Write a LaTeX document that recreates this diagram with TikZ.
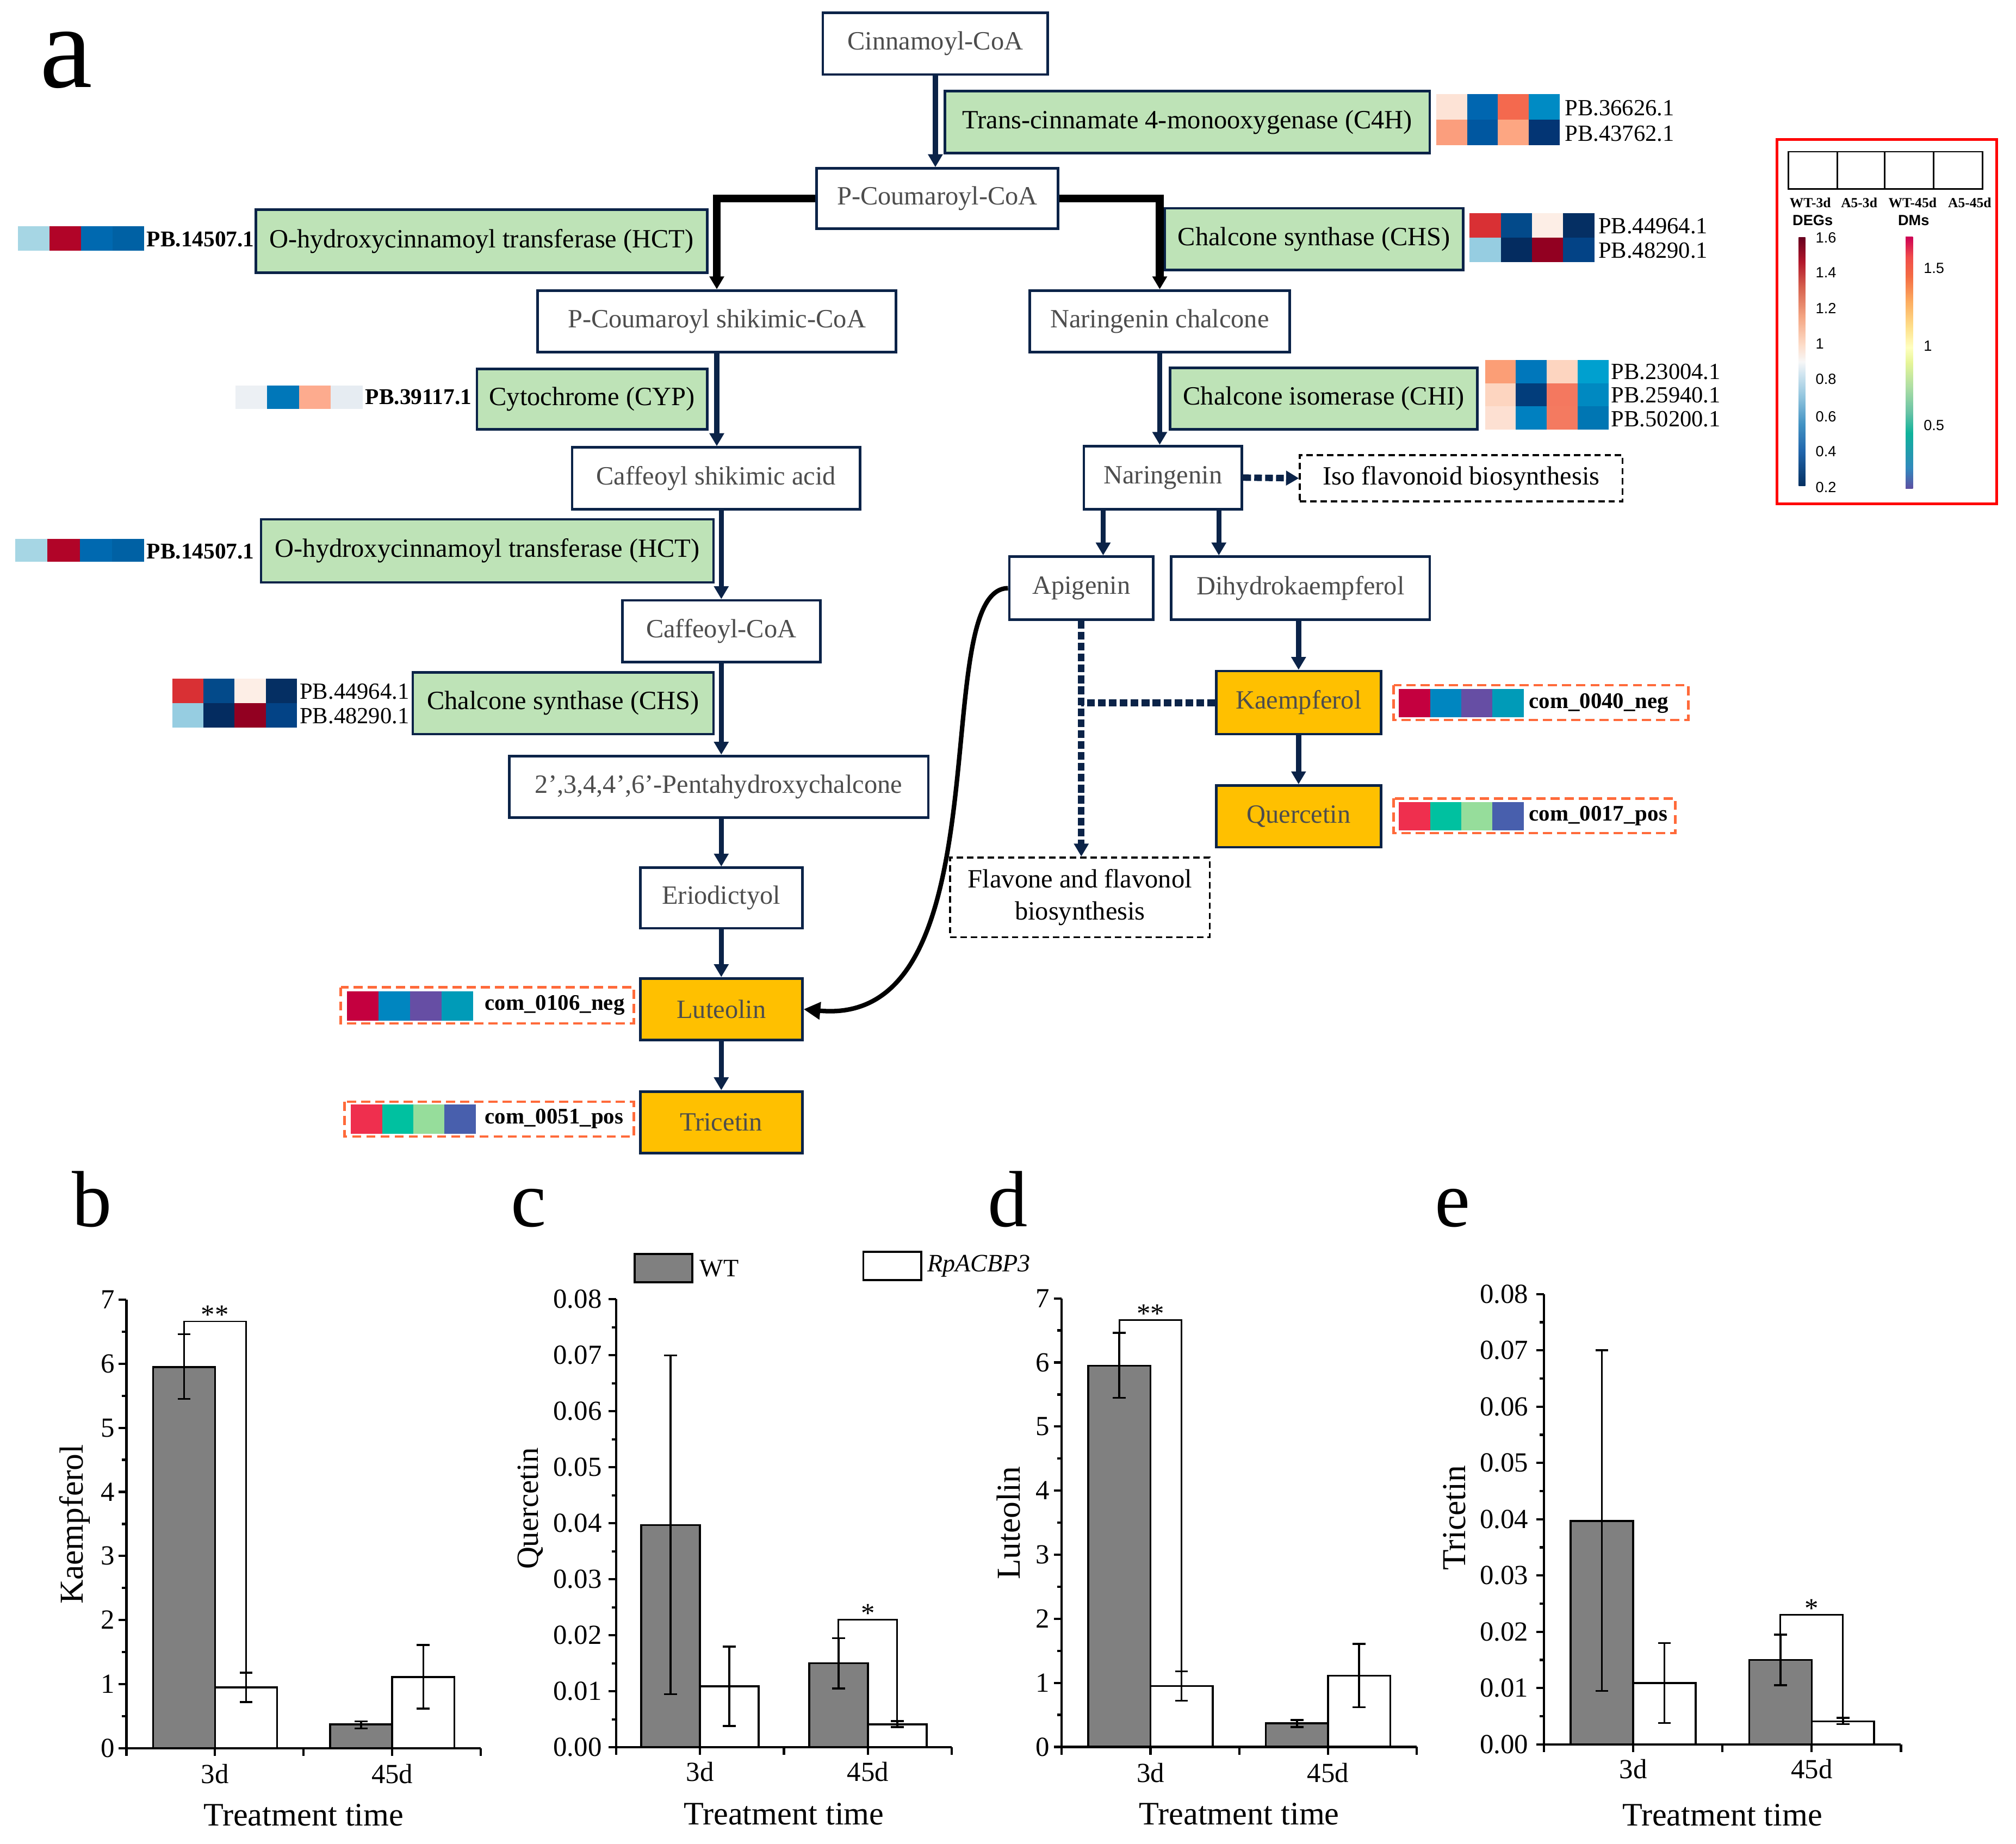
\documentclass[tikz,border=0pt]{standalone}
\usepackage{fontspec}
\setmainfont{Liberation Serif}
\newfontfamily\lsans{Liberation Sans}
\usetikzlibrary{arrows.meta}

\definecolor{bnavy}{HTML}{0B2348}
\definecolor{txtgray}{HTML}{4D4D4D}
\definecolor{gfill}{HTML}{BEE3B7}
\definecolor{ofill}{HTML}{FFC000}
\definecolor{dorange}{HTML}{FF6A3A}
\definecolor{barg}{HTML}{808080}
\definecolor{lred}{HTML}{FF0000}

% DEGs colour bar
\definecolor{dg0}{HTML}{053061}\definecolor{dg1}{HTML}{2166AC}\definecolor{dg2}{HTML}{4393C3}
\definecolor{dg3}{HTML}{92C5DE}\definecolor{dg4}{HTML}{D1E5F0}\definecolor{dg5}{HTML}{F7F7F7}
\definecolor{dg6}{HTML}{FDDBC7}\definecolor{dg7}{HTML}{F4A582}\definecolor{dg8}{HTML}{D6604D}
\definecolor{dg9}{HTML}{B2182B}\definecolor{dg10}{HTML}{67001F}
\pgfdeclareverticalshading{degsh}{20bp}{color(0bp)=(dg0); color(25bp)=(dg0); color(32bp)=(dg1);
 color(37.5bp)=(dg2); color(43bp)=(dg3); color(47.5bp)=(dg4); color(50bp)=(dg5); color(53.5bp)=(dg6);
 color(59bp)=(dg7); color(65bp)=(dg8); color(70bp)=(dg9); color(75bp)=(dg10); color(100bp)=(dg10)}
% DMs colour bar
\definecolor{dm0}{HTML}{5E4FA2}\definecolor{dm1}{HTML}{3288BD}\definecolor{dm2}{HTML}{0FB39B}
\definecolor{dm3}{HTML}{66C2A5}\definecolor{dm4}{HTML}{ABDDA4}\definecolor{dm5}{HTML}{E6F598}
\definecolor{dm6}{HTML}{FFFFBF}\definecolor{dm7}{HTML}{FEE08B}\definecolor{dm8}{HTML}{FDAE61}
\definecolor{dm9}{HTML}{F46D43}\definecolor{dm10}{HTML}{F04B4B}\definecolor{dm11}{HTML}{CC0055}
\pgfdeclareverticalshading{dmsh}{20bp}{color(0bp)=(dm0); color(25bp)=(dm0); color(29bp)=(dm1);
 color(36bp)=(dm2); color(40bp)=(dm3); color(45bp)=(dm4); color(50bp)=(dm5); color(53bp)=(dm6);
 color(57bp)=(dm7); color(62bp)=(dm8); color(67bp)=(dm9); color(71bp)=(dm10); color(75bp)=(dm11); color(100bp)=(dm11)}

\newcommand{\boxfnt}{\fontsize{20.5}{23}\selectfont}
\newcommand{\pbfnt}{\fontsize{18}{19}\selectfont}
\newcommand{\pbbfnt}{\fontsize{17.5}{19}\selectfont\bfseries}
\newcommand{\comfnt}{\fontsize{17.3}{20}\selectfont\bfseries}
\newcommand{\axfnt}{\fontsize{21.5}{24}\selectfont}
\newcommand{\ttlfnt}{\fontsize{25.5}{28}\selectfont}
\newcommand{\ylfnt}{\fontsize{26}{28}\selectfont}
\newcommand{\panfnt}{\fontsize{62}{66}\selectfont}
\newcommand{\panafnt}{\fontsize{92}{96}\selectfont}
\newcommand{\lgfnt}{\fontsize{19.5}{22}\selectfont}
\newcommand{\tinyfnt}{\fontsize{10.8}{12}\selectfont\bfseries}
\newcommand{\sansfnt}{\lsans\fontsize{11.5}{13}\selectfont}
\newcommand{\sansbfnt}{\lsans\fontsize{11.5}{13}\selectfont\bfseries}

% one heat-map row of four cells: x0, ytop, cell width, cell height, four HTML colours
\newcommand{\hmrow}[8]{%
 \definecolor{hmA}{HTML}{#5}\definecolor{hmB}{HTML}{#6}%
 \definecolor{hmC}{HTML}{#7}\definecolor{hmD}{HTML}{#8}%
 \fill[hmA] ({#1},{-#2}) rectangle ({#1+#3},{-#2-#4});%
 \fill[hmB] ({#1+#3},{-#2}) rectangle ({#1+2*#3},{-#2-#4});%
 \fill[hmC] ({#1+2*#3},{-#2}) rectangle ({#1+3*#3},{-#2-#4});%
 \fill[hmD] ({#1+3*#3},{-#2}) rectangle ({#1+4*#3},{-#2-#4});}
% error bar: x, low, high
\newcommand{\ebar}[3]{%
 \draw[errl] (#1,#2) -- (#1,#3);
 \draw[errl] ([xshift=-5pt]#1,#2) -- ([xshift=5pt]#1,#2);
 \draw[errl] ([xshift=-5pt]#1,#3) -- ([xshift=5pt]#1,#3);}

\tikzset{
 wbox/.style={draw=bnavy, line width=2pt, fill=white, text=txtgray, font=\boxfnt, inner sep=0pt, minimum height=48pt},
 gbox/.style={wbox, fill=gfill, text=black},
 obox/.style={wbox, fill=ofill, text=txtgray},
 dbox/.style={draw=black, line width=1.5pt, dash pattern=on 5pt off 3pt, inner sep=0pt, font=\boxfnt, text=black, align=center},
 cbox/.style={draw=dorange, line width=2pt, dash pattern=on 7pt off 4pt},
 arr/.style={draw=bnavy, line width=4pt, line join=miter, -{Triangle[length=10pt,width=11pt]}},
 barr/.style={arr, draw=black, line width=6pt},
 darr/.style={arr, line width=5pt, dash pattern=on 6pt off 2.5pt},
 dline/.style={draw=bnavy, line width=5.5pt, dash pattern=on 6pt off 2.5pt},
 curv/.style={draw=black, line width=3.5pt, -{Triangle[length=13pt,width=13pt]}},
 pbl/.style={font=\pbfnt, inner sep=0pt, anchor=west},
 pbb/.style={font=\pbbfnt, inner sep=0pt, anchor=west},
 coml/.style={font=\comfnt, inner sep=0pt, anchor=west},
 axf/.style={font=\axfnt, inner sep=0pt},
 ttlf/.style={font=\ttlfnt, inner sep=0pt},
 ylf/.style={font=\ylfnt, inner sep=0pt, rotate=90},
 panl/.style={font=\panfnt, inner sep=0pt, anchor=base west},
 axl/.style={line width=1.8pt, black},
 wtbar/.style={fill=barg, draw=black, line width=1.5pt},
 rpbar/.style={fill=white, draw=black, line width=1.5pt},
 errl/.style={line width=1.5pt, black},
 brk/.style={line width=1.2pt, black},
}

\begin{document}
\begin{tikzpicture}[x=1pt,y=1pt]
\useasboundingbox (0,0) rectangle (1568,-1434.3);

% panel letters
\node[panl, font=\panafnt] (pa) at (31,-68) {a};
\node[panl] (pb) at (56,-954) {b};
\node[panl] (pc) at (397,-954) {c};
\node[panl] (pd) at (768,-954) {d};
\node[panl] (pe) at (1116,-954) {e};

% ---------- pathway nodes ----------
\node[wbox, minimum width=175] (cin) at (727.5,-34) {Cinnamoyl-CoA};
\node[gbox, minimum width=377] (c4h) at (923.5,-95) {Trans-cinnamate 4-monooxygenase (C4H)};
\node[wbox, minimum width=188, minimum height=47] (pcoa) at (729,-154.5) {P-Coumaroyl-CoA};
\node[gbox, minimum width=351, minimum height=49] (hct1) at (374.5,-187.5) {O-hydroxycinnamoyl transferase (HCT)};
\node[gbox, minimum width=232] (chsr) at (1022,-186) {Chalcone synthase (CHS)};
\node[wbox, minimum width=279] (pcs) at (557.5,-250) {P-Coumaroyl shikimic-CoA};
\node[wbox, minimum width=202] (narc) at (902,-250) {Naringenin chalcone};
\node[gbox, minimum width=179, minimum height=47] (cyp) at (460.5,-310.5) {Cytochrome (CYP)};
\node[gbox, minimum width=239] (chi) at (1029.5,-310) {Chalcone isomerase (CHI)};
\node[wbox, minimum width=224] (csa) at (557,-372) {Caffeoyl shikimic acid};
\node[wbox, minimum width=123, minimum height=49] (nar) at (904.5,-371.5) {Naringenin};
\node[dbox, minimum width=251, minimum height=36] (iso) at (1136.5,-372) {Iso flavonoid biosynthesis};
\node[gbox, minimum width=352, minimum height=49] (hct2) at (379,-428.5) {O-hydroxycinnamoyl transferase (HCT)};
\node[wbox, minimum width=112, minimum height=49] (api) at (841,-457.5) {Apigenin};
\node[wbox, minimum width=201, minimum height=49] (dhk) at (1011.5,-457.5) {Dihydrokaempferol};
\node[wbox, minimum width=154] (cafc) at (561,-491) {Caffeoyl-CoA};
\node[gbox, minimum width=234] (chsl) at (438,-547) {Chalcone synthase (CHS)};
\node[obox, minimum width=128, minimum height=49] (kae) at (1010,-546.5) {Kaempferol};
\node[wbox, minimum width=326] (penta) at (559,-612) {2',3,4,4',6'-Pentahydroxychalcone};
\node[obox, minimum width=128] (que) at (1010,-635) {Quercetin};
\node[dbox, minimum width=202, minimum height=62] (flav) at (840,-698) {Flavone and flavonol\\[2pt]biosynthesis};
\node[wbox, minimum width=126, minimum height=47] (eri) at (561,-698.5) {Eriodictyol};
\node[obox, minimum width=126] (lut) at (561,-785) {Luteolin};
\node[obox, minimum width=126] (tri) at (561,-873) {Tricetin};

% ---------- connectors ----------
\draw[arr] (cin.south) -- (cin.south |- pcoa.north);
\draw[barr] (pcoa.west) -| (pcs.north);
\draw[barr] (pcoa.east) -| (narc.north);
\draw[arr] (pcs.south) -- (pcs.south |- csa.north);
\draw[arr] (cafc.north |- csa.south) -- (cafc.north);
\draw[arr] (cafc.south) -- (cafc.south |- penta.north);
\draw[arr] (eri.north |- penta.south) -- (eri.north);
\draw[arr] (eri.south) -- (lut.north);
\draw[arr] (lut.south) -- (tri.north);
\draw[arr] (narc.south) -- (narc.south |- nar.north);
\coordinate (nx1) at (858,0);
\coordinate (nx2) at (948,0);
\draw[arr] (nx1 |- nar.south) -- (nx1 |- api.north);
\draw[arr] (nx2 |- nar.south) -- (nx2 |- dhk.north);
\draw[darr] (nar.east) -- (iso.west);
\draw[arr] (kae.north |- dhk.south) -- (kae.north);
\draw[arr] (kae.south) -- (que.north);
\draw[darr] (api.south) -- (api.south |- flav.north);
\draw[dline] (kae.west) -- (kae.west -| api.south);
\draw[curv] (api.west) .. controls (720,-458) and (785,-800) .. (lut.east);

% ---------- heat maps (DEGs) ----------
\hmrow{1117}{73}{24}{20}{FDE3D6}{0066B0}{F4694E}{008BC4}
\hmrow{1117}{93}{24}{20}{FB9E7D}{0057A0}{FDA682}{033574}
\node[pbl] (lc4a) at (1217,-84) {PB.36626.1};
\node[pbl] (lc4b) at (1217,-104) {PB.43762.1};

\hmrow{14}{176}{24.5}{19}{A6D6E4}{B10428}{0069B0}{0061A4}
\node[pbb] (lhct1) at (114,-186) {PB.14507.1};

\hmrow{1143}{166}{24.25}{19}{D93034}{034A8A}{FDEEE6}{052F63}
\hmrow{1143}{185}{24.25}{19}{96CDE1}{042C60}{920021}{034386}
\node[pbl] (lchsr1) at (1243,-176) {PB.44964.1};
\node[pbl] (lchsr2) at (1243,-195) {PB.48290.1};

\hmrow{183}{300}{24.75}{18}{ECF0F4}{0077B9}{FDAB8E}{E6ECF2}
\node[pbb] (lcyp) at (284,-309) {PB.39117.1};

\hmrow{1155}{280}{24}{18}{FB9E76}{0077BB}{FDD5C0}{00A0CF}
\hmrow{1155}{298}{24}{18}{FDD5C0}{023D7B}{F4785F}{0089C1}
\hmrow{1155}{316}{24}{18}{FDE0D2}{0080C0}{F47A60}{0076B3}
\node[pbl] (lchi1) at (1253,-289) {PB.23004.1};
\node[pbl] (lchi2) at (1253,-307.5) {PB.25940.1};
\node[pbl] (lchi3) at (1253,-326) {PB.50200.1};

\hmrow{12}{419}{25}{18}{A6D6E4}{B10428}{0069B0}{0061A4}
\node[pbb] (lhct2) at (114,-429) {PB.14507.1};

\hmrow{134}{528}{24.25}{19}{D93034}{034A8A}{FDEEE6}{052F63}
\hmrow{134}{547}{24.25}{19}{96CDE1}{042C60}{920021}{034386}
\node[pbl] (lchsl1) at (233,-538) {PB.44964.1};
\node[pbl] (lchsl2) at (233,-557) {PB.48290.1};

% ---------- metabolite heat maps ----------
\draw[cbox] (265,-768) rectangle (493,-796);
\hmrow{270}{771}{24.5}{23}{C4003F}{0086C0}{664EA4}{009BB8}
\node[coml] (m106) at (377,-782) {com\_0106\_neg};

\draw[cbox] (268,-857) rectangle (493,-884);
\hmrow{273}{859}{24.25}{23}{EF2F4E}{00C1A0}{96DD9B}{485FAD}
\node[coml] (m051) at (377,-870) {com\_0051\_pos};

\draw[cbox] (1084,-533) rectangle (1313,-560);
\hmrow{1088}{536}{24.25}{22}{C4003F}{0086C0}{664EA4}{009BB8}
\node[coml] (m040) at (1189,-547) {com\_0040\_neg};

\draw[cbox] (1084,-621) rectangle (1303,-648);
\hmrow{1088}{624}{24.25}{22}{EF2F4E}{00C1A0}{96DD9B}{485FAD}
\node[coml] (m017) at (1189,-634.5) {com\_0017\_pos};

% ---------- legend ----------
\draw[lred, line width=2pt] (1382,-108.5) rectangle (1553,-392);
\draw[black, line width=1.2pt] (1391,-118) rectangle (1542,-147);
\draw[black, line width=1.2pt] (1429,-118) -- (1429,-147) (1466,-118) -- (1466,-147) (1504,-118) -- (1504,-147);
\node[font=\tinyfnt, inner sep=0pt] (lg1) at (1408,-157.5) {WT-3d};
\node[font=\tinyfnt, inner sep=0pt] (lg2) at (1446,-157.5) {A5-3d};
\node[font=\tinyfnt, inner sep=0pt] (lg3) at (1487.5,-157.5) {WT-45d};
\node[font=\tinyfnt, inner sep=0pt] (lg4) at (1532,-157.5) {A5-45d};
\node[font=\sansbfnt, inner sep=0pt, anchor=west] (ldeg) at (1394,-171.5) {DEGs};
\node[font=\sansbfnt, inner sep=0pt, anchor=west] (ldm) at (1476,-171.5) {DMs};
\shade[shading=degsh] (1395,-184.5) rectangle (1408,-378);
\shade[shading=dmsh] (1478,-184) rectangle (1492,-380);
\foreach \t/\yy [count=\k] in {1.6/185,1.4/212,1.2/240,1/267.5,0.8/295,0.6/324,0.4/351,0.2/379}
  \node[font=\sansfnt, inner sep=0pt, anchor=west] (dgt\k) at (1412,-\yy) {\t};
\foreach \t/\yy [count=\k] in {1.5/208.5,1/269,0.5/331}
  \node[font=\sansfnt, inner sep=0pt, anchor=west] (dmt\k) at (1496,-\yy) {\t};

% ---------- bar-chart legend ----------
\node[draw=black, line width=1.5pt, fill=barg, minimum width=45, minimum height=22, inner sep=0pt] (lgwt) at (516,-986.3) {};
\node[font=\lgfnt, inner sep=0pt, anchor=west] (lgwtt) at (544,-986.5) {WT};
\node[draw=black, line width=1.5pt, fill=white, minimum width=45, minimum height=22, inner sep=0pt] (lgrp) at (694,-984.6) {};
\node[font=\lgfnt, inner sep=0pt, anchor=west] (lgrpt) at (721,-984.6) {\itshape RpACBP3};

% ---------- y-axis titles ----------
\node[ylf] (ylb) at (58.3,-1185.7) {Kaempferol};
\node[ylf, font=\fontsize{24}{26}\selectfont] (ylc) at (412.5,-1173.4) {Quercetin};
\node[ylf] (yld) at (784.5,-1184.7) {Luteolin};
\node[ylf] (yle) at (1131.2,-1180.7) {Tricetin};

% ---------- chart b ----------
\begin{scope}[shift={(98.3pt,-1359.8pt)}, x=275.7pt, y=49.84pt]
\draw[wtbar] (0.075,0) rectangle (0.25,5.95);
\draw[rpbar] (0.25,0) rectangle (0.425,0.95);
\draw[wtbar] (0.575,0) rectangle (0.75,0.37);
\draw[rpbar] (0.75,0) rectangle (0.925,1.11);
\ebar{0.1625}{5.45}{6.46}
\ebar{0.3375}{0.72}{1.18}
\ebar{0.6625}{0.31}{0.42}
\ebar{0.8375}{0.62}{1.61}
\draw[brk] (0.1625,6.46) -- (0.1625,6.66) -- (0.3375,6.66) -- (0.3375,1.18);
\node[axf, anchor=base] (sgb) at ([yshift=-2pt]0.25,6.66) {**};
\draw[axl] (0,7) -- (0,0) -- (1,0);
\foreach \v in {0,...,7} {\draw[axl] (0,\v) -- ++(-6pt,0); \node[axf, anchor=east] (tyb\v) at ([xshift=-9pt]0,\v) {\v};}
\foreach \v in {0.5,1.5,...,6.5} \draw[axl] (0,\v) -- ++(-3.5pt,0);
\foreach \u in {0,0.25,0.5,0.75,1} \draw[axl] (\u,0) -- ++(0,-6pt);
\node[axf] (xb1) at ([yshift=-20pt]0.25,0) {3d};
\node[axf] (xb2) at ([yshift=-20pt]0.75,0) {45d};
\node[ttlf] (xtb) at ([yshift=-52pt]0.5,0) {Treatment time};
\end{scope}

% ---------- chart c ----------
\begin{scope}[shift={(479.2pt,-1359.1pt)}, x=261.1pt, y=43.56pt]
\draw[wtbar] (0.075,0) rectangle (0.25,3.97);
\draw[rpbar] (0.25,0) rectangle (0.425,1.09);
\draw[wtbar] (0.575,0) rectangle (0.75,1.50);
\draw[rpbar] (0.75,0) rectangle (0.925,0.41);
\ebar{0.1625}{0.95}{7.0}
\ebar{0.3375}{0.38}{1.8}
\ebar{0.6625}{1.05}{1.95}
\ebar{0.8375}{0.36}{0.47}
\draw[brk] (0.6625,1.95) -- (0.6625,2.28) -- (0.8375,2.28) -- (0.8375,0.47);
\node[axf, anchor=base] (sgc) at ([yshift=-2pt]0.75,2.28) {*};
\draw[axl] (0,8) -- (0,0) -- (1,0);
\foreach \v in {0,...,8} {\draw[axl] (0,\v) -- ++(-6pt,0); \node[axf, anchor=east] (tyc\v) at ([xshift=-11pt]0,\v) {0.0\v};}
\foreach \v in {0.5,1.5,...,7.5} \draw[axl] (0,\v) -- ++(-3.5pt,0);
\foreach \u in {0,0.25,0.5,0.75,1} \draw[axl] (\u,0) -- ++(0,-6pt);
\node[axf] (xc1) at ([yshift=-19pt]0.25,0) {3d};
\node[axf] (xc2) at ([yshift=-19pt]0.75,0) {45d};
\node[ttlf] (xtc) at ([yshift=-52pt]0.5,0) {Treatment time};
\end{scope}

% ---------- chart d ----------
\begin{scope}[shift={(825.7pt,-1358.8pt)}, x=276.3pt, y=49.84pt]
\draw[wtbar] (0.075,0) rectangle (0.25,5.95);
\draw[rpbar] (0.25,0) rectangle (0.425,0.95);
\draw[wtbar] (0.575,0) rectangle (0.75,0.37);
\draw[rpbar] (0.75,0) rectangle (0.925,1.11);
\ebar{0.1625}{5.45}{6.46}
\ebar{0.3375}{0.72}{1.18}
\ebar{0.6625}{0.31}{0.42}
\ebar{0.8375}{0.62}{1.61}
\draw[brk] (0.1625,6.46) -- (0.1625,6.66) -- (0.3375,6.66) -- (0.3375,1.18);
\node[axf, anchor=base] (sgd) at ([yshift=-2pt]0.25,6.66) {**};
\draw[axl] (0,7) -- (0,0) -- (1,0);
\foreach \v in {0,...,7} {\draw[axl] (0,\v) -- ++(-6pt,0); \node[axf, anchor=east] (tyd\v) at ([xshift=-9pt]0,\v) {\v};}
\foreach \v in {0.5,1.5,...,6.5} \draw[axl] (0,\v) -- ++(-3.5pt,0);
\foreach \u in {0,0.25,0.5,0.75,1} \draw[axl] (\u,0) -- ++(0,-6pt);
\node[axf] (xd1) at ([yshift=-20pt]0.25,0) {3d};
\node[axf] (xd2) at ([yshift=-20pt]0.75,0) {45d};
\node[ttlf] (xtd) at ([yshift=-52pt]0.5,0) {Treatment time};
\end{scope}

% ---------- chart e ----------
\begin{scope}[shift={(1200.8pt,-1356.8pt)}, x=277.7pt, y=43.78pt]
\draw[wtbar] (0.075,0) rectangle (0.25,3.97);
\draw[rpbar] (0.25,0) rectangle (0.425,1.09);
\draw[wtbar] (0.575,0) rectangle (0.75,1.50);
\draw[rpbar] (0.75,0) rectangle (0.925,0.41);
\ebar{0.1625}{0.95}{7.0}
\ebar{0.3375}{0.38}{1.8}
\ebar{0.6625}{1.05}{1.95}
\ebar{0.8375}{0.36}{0.47}
\draw[brk] (0.6625,1.95) -- (0.6625,2.30) -- (0.8375,2.30) -- (0.8375,0.47);
\node[axf, anchor=base] (sge) at ([yshift=-2pt]0.75,2.30) {*};
\draw[axl] (0,8) -- (0,0) -- (1,0);
\foreach \v in {0,...,8} {\draw[axl] (0,\v) -- ++(-6pt,0); \node[axf, anchor=east] (tye\v) at ([xshift=-12pt]0,\v) {0.0\v};}
\foreach \v in {0.5,1.5,...,7.5} \draw[axl] (0,\v) -- ++(-3.5pt,0);
\foreach \u in {0,0.25,0.5,0.75,1} \draw[axl] (\u,0) -- ++(0,-6pt);
\node[axf] (xe1) at ([yshift=-19pt]0.25,0) {3d};
\node[axf] (xe2) at ([yshift=-19pt]0.75,0) {45d};
\node[ttlf] (xte) at ([yshift=-55pt]0.5,0) {Treatment time};
\end{scope}

\end{tikzpicture}
\end{document}
